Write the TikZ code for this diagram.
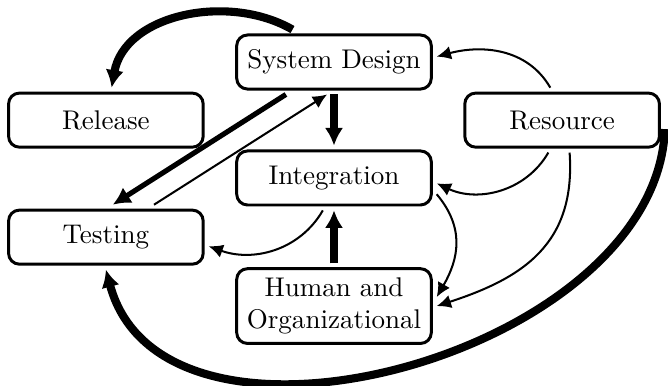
\documentclass[tikz,border=0pt]{standalone}
\usetikzlibrary{arrows, arrows.meta}

\begin{document}
\begin{tikzpicture}[x=0.37pt, y=0.37pt, auto]
    % Define styles for boxes and lines
    \tikzstyle{block} = [rectangle, draw, line width=1.1pt, align=center, rounded corners=4pt, minimum width=72pt, minimum height=20pt, outer sep=2pt]
    \tikzstyle{line} = [draw, line width=0.75pt, -{Latex[length=5.3pt, width=5pt]}]
    \tikzstyle{heavy} = [draw, line width=3pt, -{Latex[length=6.5pt, width=6.8pt]}]  % main flow

    \useasboundingbox (-334,62) rectangle (334,-323);

    % Place nodes
    \node [block] (sysdesign) {System Design};
    \node [block, below of=sysdesign, node distance=42.9pt] (integration) {Integration};
    \node [block, left of=sysdesign, node distance=84.4pt, yshift=-21.5pt] (release) {Release};
    \node [block, right of=sysdesign, node distance=84.4pt, yshift=-21.5pt] (resource) {Resource};
    \node [block, below of=release, node distance=43.3pt] (testing) {Testing};
    \node [block, below of=integration, node distance=47.4pt] (human) {Human and\\Organizational};

    % Draw edges
    \path [heavy] (sysdesign.142) to[out=150, in=80] (release.80);
    \path [heavy, line width=1.9pt] (sysdesign.214) -- (testing.78);
    \path [line] (testing.34) -- (sysdesign.258);
    \path [heavy] (sysdesign.south) -- (integration.north);
    \path [heavy] (human.north) -- (integration.south);
    \path [line] (resource.110) to[out=120, in=15] (sysdesign.3);
    \path [line] (resource.247) to[out=240, in=-25] (integration.357);
    \path [line] (resource.283) to[out=-86, in=18, looseness=1.15] (human.east);
    \path [line] (integration.351) to[out=-50, in=60, looseness=1.1] (human.5);
    \path [line] (integration.251) to[out=240, in=-20] (testing.355);
    \path [heavy] (resource.355) to[out=-92, in=-75] (testing.south);
\end{tikzpicture}
\end{document}
